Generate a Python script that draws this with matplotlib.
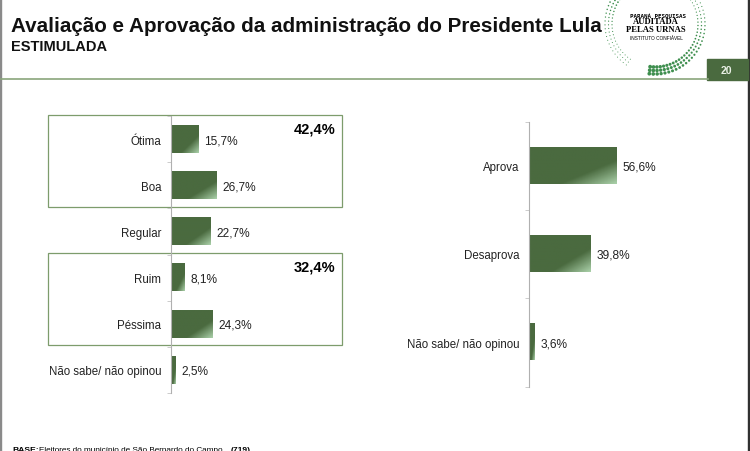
import numpy as np
import matplotlib
matplotlib.use("Agg")
import matplotlib.pyplot as plt
from matplotlib.colors import LinearSegmentedColormap
from matplotlib.patches import Rectangle

W, H = 750, 452

left_cats = ["Ótima", "Boa", "Regular", "Ruim", "Péssima", "Não sabe/ não opinou"]
left_vals = [15.7, 26.7, 22.7, 8.1, 24.3, 2.5]
right_cats = ["Aprova", "Desaprova", "Não sabe/ não opinou"]
right_vals = [56.6, 39.8, 3.6]
title = "Avaliação e Aprovação da administração do Presidente Lula"
subtitle = "ESTIMULADA"
group_labels = ["42,4%", "32,4%"]
page = "20"

GREEN = "#4a6a3f"
BOX = "#7d9c6c"
plt.rcParams["font.family"] = ["Liberation Sans", "DejaVu Sans"]

cmap = LinearSegmentedColormap.from_list(
    "bar", [(0, GREEN), (0.68, GREEN), (1, "#a9cfa8")]
)


def axes_px(fig, x0, y0, x1, y1):
    return fig.add_axes([x0 / W, 1 - y1 / H, (x1 - x0) / W, (y1 - y0) / H])


def fmt(v):
    return f"{v:.1f}".replace(".", ",") + "%"


def bar_chart(ax, cats, vals, xmax, bar_h, pad):
    n = len(cats)
    grad = np.add.outer(np.linspace(0, 1, 40), np.linspace(0, 1, 60)) / 2
    ax.barh(range(n), vals, height=bar_h, color="none")
    for v, y in zip(vals, range(n)):
        ax.imshow(
            grad, cmap=cmap, vmin=0, vmax=1, aspect="auto", zorder=2,
            extent=(0, v, y + bar_h / 2, y - bar_h / 2),
        )
        ax.annotate(fmt(v), (v, y), xytext=(pad, -1), textcoords="offset pixels",
                    va="center", fontsize=8.6, color="#222222")
    ax.set_xlim(0, xmax)
    ax.set_ylim(n - 0.5, -0.5)
    ax.patch.set_alpha(0)
    for s in ["top", "right", "bottom"]:
        ax.spines[s].set_visible(False)
    ax.spines["left"].set_color("#b0b0b0")
    ax.set_xticks([])
    ax.set_yticks(range(n))
    ax.set_yticklabels(cats, fontsize=8.3, color="#222222")
    ax.tick_params(axis="y", length=0, pad=7)
    ax.set_yticks(np.arange(n + 1) - 0.5, minor=True)
    ax.tick_params(axis="y", which="minor", length=3, color="#c4c4c4")


fig = plt.figure(figsize=(W / 100, H / 100), dpi=100)

# fundo em coordenadas de pixel
bg = fig.add_axes([0, 0, 1, 1])
bg.set_xlim(0, W)
bg.set_ylim(H, 0)
bg.axis("off")

bg.add_patch(Rectangle((0, 0), 1, H, color="#8a8a8a"))
bg.add_patch(Rectangle((748, 0), 2, H, color="#303030"))
bg.plot([0, 708], [80, 80], color="#8aa67c", lw=1.2)
bg.add_patch(Rectangle((707, 60), 41, 21, color=GREEN))
bg.text(726, 70.5, page, color="#e8efe4", fontsize=7.5, fontweight="bold",
        ha="center", va="center")

bg.text(11, 27, title, fontsize=14.85, fontweight="bold", color="#111111", va="center")
bg.text(11.5, 47, subtitle, fontsize=10.5, fontweight="bold", color="#111111", va="center")

bg.add_patch(Rectangle((48, 116), 294, 92, fc="none", ec=BOX, lw=0.9))
bg.add_patch(Rectangle((48, 254), 294, 92, fc="none", ec=BOX, lw=0.9))
bg.text(335, 130, group_labels[0], fontsize=10.5, fontweight="bold", ha="right", va="center")
bg.text(335, 268, group_labels[1], fontsize=10.5, fontweight="bold", ha="right", va="center")

bg.text(12, 450.5, "BASE:", fontsize=6.1, fontweight="bold", va="center")
bg.text(39, 450.5, "Eleitores do município de São Bernardo do Campo", fontsize=5.9, va="center")
bg.text(231, 450.5, "(719)", fontsize=6.1, fontweight="bold", va="center")

# logo: dois arcos de pontos que crescem ao longo do círculo
cx, cy = 655, 25
for a0, a1 in [(-70, 100), (125, 290)]:
    ang = np.radians(np.arange(a0, a1, 4.5))
    frac = (ang - ang.min()) / (ang.max() - ang.min())
    for rr in [43, 46.5, 50]:
        bg.scatter(cx + rr * np.cos(ang), cy + rr * np.sin(ang), s=0.5 + 7 * frac ** 3,
                   color="#3f8f4f", lw=0)
bg.text(657.5, 16, "PARANÁ PESQUISAS", fontsize=4.2, fontweight="bold", ha="center",
        va="center", family="DejaVu Sans Mono")
bg.text(656, 22.5, "AUDITADA", fontsize=6.2, fontweight="bold", ha="center", va="center",
        family="Liberation Serif")
bg.text(656, 30.5, "PELAS URNAS", fontsize=6.2, fontweight="bold", ha="center", va="center",
        family="Liberation Serif")
bg.text(656.5, 38, "INSTITUTO CONFIÁVEL", fontsize=3.4, ha="center", va="center")

ax1 = axes_px(fig, 171, 117, 343, 394)
bar_chart(ax1, left_cats, left_vals, 100, 0.6, 6)

ax2 = axes_px(fig, 529, 122.5, 684, 387.5)
bar_chart(ax2, right_cats, right_vals, 100, 0.41, 6)

fig.savefig("out.png", dpi=100)
